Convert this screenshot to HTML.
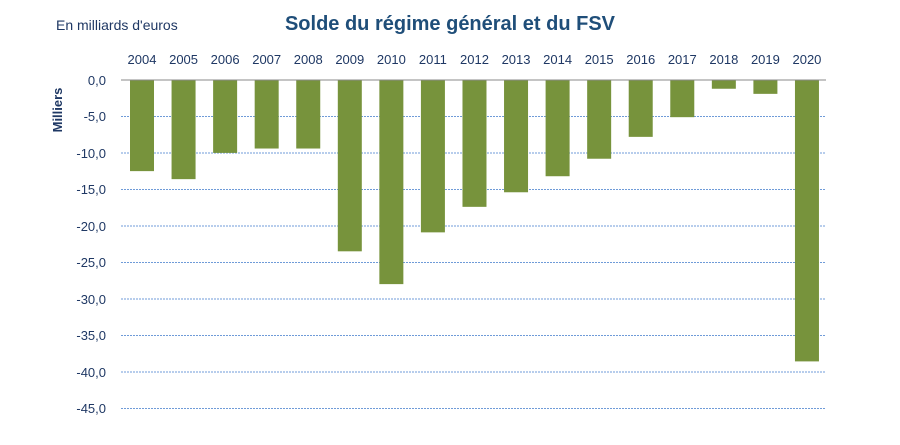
<!DOCTYPE html>
<html><head><meta charset="utf-8"><style>body{margin:0;background:#fff}svg{display:block}</style></head><body>
<svg width="900" height="445" xmlns="http://www.w3.org/2000/svg" font-family="Liberation Sans, sans-serif">
<rect width="900" height="445" fill="#fff"/>
<text x="56" y="30" font-size="14" fill="#1f3864">En milliards d'euros</text>
<text x="450" y="30" font-size="20" font-weight="bold" fill="#1f4e79" text-anchor="middle">Solde du régime général et du FSV</text>
<text transform="translate(62,110) rotate(-90)" font-size="13" font-weight="bold" fill="#1f3864" text-anchor="middle">Milliers</text>
<g stroke="#6f9bd8" stroke-width="1" stroke-dasharray="2,1">
<line x1="121" x2="826" y1="116.5" y2="116.5"/><line x1="121" x2="826" y1="153" y2="153"/>
<line x1="121" x2="826" y1="189.5" y2="189.5"/><line x1="121" x2="826" y1="226" y2="226"/>
<line x1="121" x2="826" y1="262.5" y2="262.5"/><line x1="121" x2="826" y1="299" y2="299"/>
<line x1="121" x2="826" y1="335.5" y2="335.5"/><line x1="121" x2="826" y1="372" y2="372"/>
<line x1="121" x2="826" y1="408.5" y2="408.5"/>
</g>
<g font-size="13" fill="#1f3864" text-anchor="end">
<text x="106" y="85">0,0</text><text x="106" y="121">-5,0</text><text x="106" y="158">-10,0</text>
<text x="106" y="194">-15,0</text><text x="106" y="231">-20,0</text><text x="106" y="267">-25,0</text>
<text x="106" y="304">-30,0</text><text x="106" y="340">-35,0</text><text x="106" y="377">-40,0</text>
<text x="106" y="413">-45,0</text>
</g>
<g fill="#77933c" id="bars"></g>
<g font-size="13" fill="#1f3864" text-anchor="middle" id="labels"></g>
<line x1="121" x2="826" y1="80" y2="80" stroke="#888" stroke-width="1"/>
<script>
var v=[-12.5,-13.6,-10,-9.4,-9.4,-23.5,-28,-20.9,-17.4,-15.4,-13.2,-10.8,-7.8,-5.1,-1.2,-1.9,-38.6];
var b=document.getElementById('bars'),l=document.getElementById('labels'),ns='http://www.w3.org/2000/svg';
v.forEach(function(d,i){var c=142+i*41.56;var r=document.createElementNS(ns,'rect');
r.setAttribute('x',c-12);r.setAttribute('y',80);r.setAttribute('width',24);r.setAttribute('height',-d*7.29);b.appendChild(r);
var t=document.createElementNS(ns,'text');t.setAttribute('x',c);t.setAttribute('y',64);t.textContent=2004+i;l.appendChild(t);});
</script>
</svg>
</body></html>
